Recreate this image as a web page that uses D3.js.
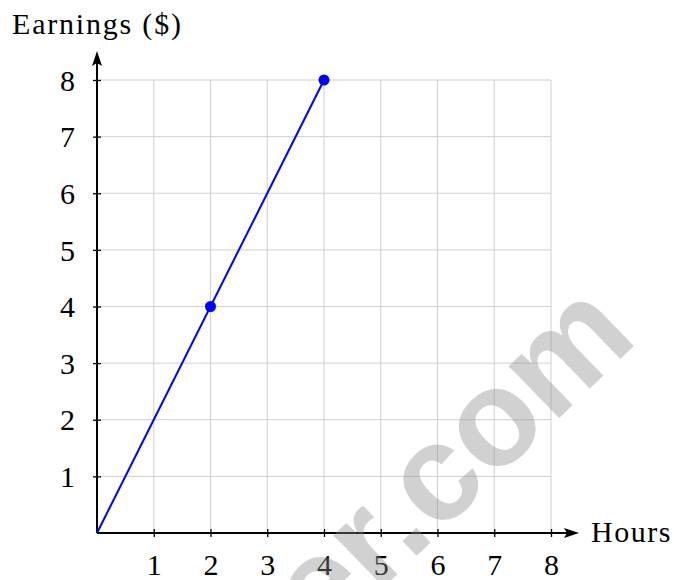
<!DOCTYPE html>
<meta charset="utf-8">
<style>
body { margin: 0; background: #fff; }
.lbl { font-family: "Liberation Serif", "Times New Roman", "DejaVu Serif", serif; font-size: 30px; fill: #000; }
.grid line { stroke: #cfcfcf; stroke-width: 1; }
</style>
<body>
<svg width="674" height="580"></svg>
<script src="https://d3js.org/d3.v7.min.js"></script>
<script>

// data
var hours = [0, 2, 4];
var earnings = [0, 4, 8];
var xTicks = [1, 2, 3, 4, 5, 6, 7, 8];
var yTicks = [1, 2, 3, 4, 5, 6, 7, 8];

var svg = d3.select("svg");

var x = d3.scaleLinear().domain([0, 8]).range([97, 551]);
var y = d3.scaleLinear().domain([0, 8]).range([533, 80]);

// grid
var grid = svg.append("g").attr("class", "grid");
grid.selectAll(".gx").data(xTicks).enter().append("line")
    .attr("x1", function(d) { return x(d); })
    .attr("x2", function(d) { return x(d); })
    .attr("y1", y(0)).attr("y2", y(8));
grid.selectAll(".gy").data(yTicks).enter().append("line")
    .attr("x1", x(0)).attr("x2", x(8))
    .attr("y1", function(d) { return y(d); })
    .attr("y2", function(d) { return y(d); });

// axes (ticks cross the axis line)
var xAxis = svg.append("g")
    .attr("transform", "translate(0," + y(0) + ")")
    .call(d3.axisBottom(x).tickValues(xTicks).tickSize(0).tickPadding(0));
xAxis.select(".domain").remove();
xAxis.selectAll(".tick line").attr("y1", -4).attr("y2", 4).attr("stroke", "#000").attr("stroke-width", 1.3);
xAxis.selectAll(".tick text")
    .attr("class", "lbl")
    .attr("y", 42).attr("dy", null);

var yAxis = svg.append("g")
    .attr("transform", "translate(" + x(0) + ",0)")
    .call(d3.axisLeft(y).tickValues(yTicks).tickSize(0).tickPadding(0));
yAxis.select(".domain").remove();
yAxis.selectAll(".tick line").attr("x1", -4).attr("x2", 4).attr("stroke", "#000").attr("stroke-width", 1.3);
yAxis.selectAll(".tick text")
    .attr("class", "lbl")
    .attr("x", -22).attr("dy", "0.34em");

// axis lines with arrow heads
svg.append("line")
    .attr("x1", x(0)).attr("y1", y(0)).attr("x2", 568).attr("y2", y(0))
    .attr("stroke", "#000").attr("stroke-width", 2);
svg.append("path")
    .attr("d", "M579," + y(0) + "L564," + (y(0) - 5) + "L567," + y(0) + "L564," + (y(0) + 5) + "Z")
    .attr("fill", "#000");
svg.append("line")
    .attr("x1", x(0)).attr("y1", y(0)).attr("x2", x(0)).attr("y2", 62)
    .attr("stroke", "#000").attr("stroke-width", 2);
svg.append("path")
    .attr("d", "M" + x(0) + ",51L" + (x(0) - 5) + ",66L" + x(0) + ",63L" + (x(0) + 5) + ",66Z")
    .attr("fill", "#000");

// axis titles
svg.append("text").attr("class", "lbl").attr("x", 12).attr("y", 34)
    .style("letter-spacing", "1.8px")
    .text("Earnings ($)");
svg.append("text").attr("class", "lbl").attr("x", 591).attr("y", 542)
    .style("letter-spacing", "1.5px")
    .text("Hours");

// line and points
var line = d3.line()
    .x(function(d, i) { return x(hours[i]); })
    .y(function(d, i) { return y(earnings[i]); });
svg.append("path").datum(hours)
    .attr("d", line)
    .attr("fill", "none").attr("stroke", "#0000ff").attr("stroke-width", 2);
svg.selectAll(".pt").data(hours.slice(1)).enter().append("circle")
    .attr("cx", function(d) { return x(d); })
    .attr("cy", function(d, i) { return y(earnings[i + 1]); })
    .attr("r", 5.5).attr("fill", "#0000ff");

// watermark
svg.append("text")
    .attr("transform", "translate(640,340) rotate(-44)")
    .attr("text-anchor", "end")
    .style("font-family", "Liberation Sans, Arial, sans-serif").style("font-weight", "bold").style("font-size", "137px")
    .style("fill", "#8c8c8c").style("fill-opacity", 0.4)
    .text("er.com");

</script>
</body>
